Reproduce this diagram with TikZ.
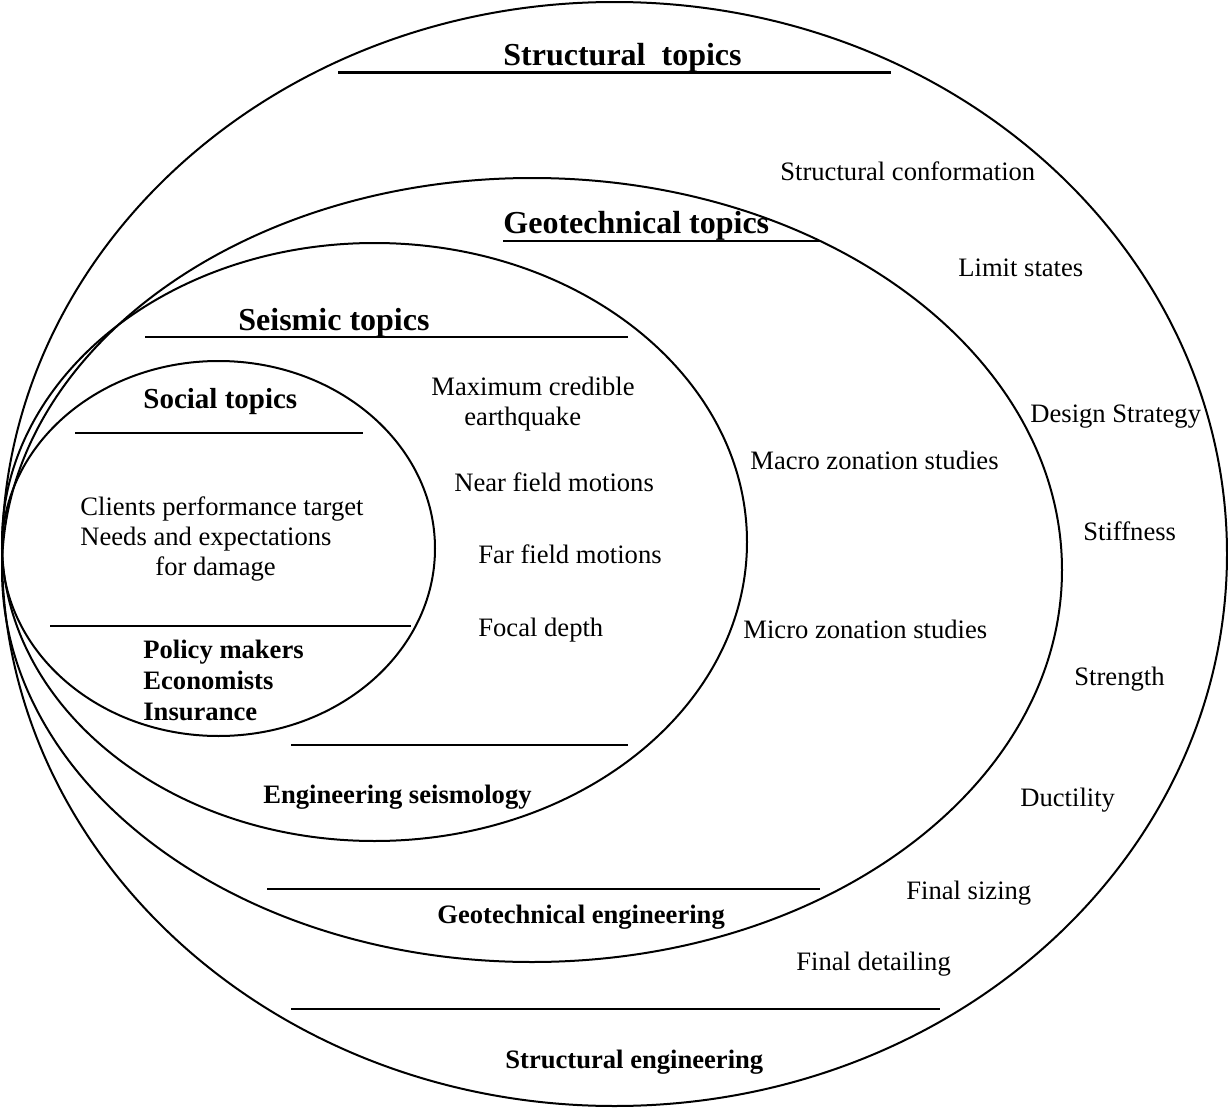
\documentclass[tikz,border=0pt]{standalone}
\usepackage{fontspec}
\setmainfont{Liberation Serif}
\begin{document}
\begin{tikzpicture}[x=0.5pt,y=-0.5pt,
  ring/.style={line width=1pt},
  rulel/.style={line width=1.1pt},
  txt/.style={anchor=base west, inner sep=0pt, font=\fontsize{13.3}{15}\selectfont},
  btxt/.style={anchor=base west, inner sep=0pt, font=\fontsize{13.3}{15}\selectfont\bfseries},
  head/.style={anchor=base west, inner sep=0pt, font=\fontsize{16}{18}\selectfont\bfseries},
  shead/.style={anchor=base west, inner sep=0pt, font=\fontsize{14.5}{17}\selectfont\bfseries}]
\useasboundingbox (0,0) rectangle (1228,1108);
% nested ellipses
\draw[ring] (614.5,554) ellipse [x radius=306.25pt, y radius=276pt];
\draw[ring] (532,570) ellipse [x radius=265pt, y radius=196pt];
\draw[ring] (374.5,542) ellipse [x radius=186.25pt, y radius=149.5pt];
\draw[ring] (218.5,548.5) ellipse [x radius=108.25pt, y radius=93.75pt];
% rule lines
\coordinate (s1a) at (338,72.5);  \coordinate (s1b) at (891,72.5);
\coordinate (g1a) at (503,241);   \coordinate (g1b) at (820,241);
\coordinate (e1a) at (145,337);   \coordinate (e1b) at (628,337);
\coordinate (o1a) at (75,433);    \coordinate (o1b) at (363,433);
\coordinate (o2a) at (50,626);    \coordinate (o2b) at (411,626);
\coordinate (e2a) at (291,745);   \coordinate (e2b) at (628,745);
\coordinate (g2a) at (267,889);   \coordinate (g2b) at (820,889);
\coordinate (s2a) at (291,1009);  \coordinate (s2b) at (940,1009);
\draw[rulel] (s1a) -- (s1b);
\draw[rulel] (g1a) -- (g1b);
\draw[rulel] (e1a) -- (e1b);
\draw[rulel] (o1a) -- (o1b);
\draw[rulel] (o2a) -- (o2b);
\draw[rulel] (e2a) -- (e2b);
\draw[rulel] (g2a) -- (g2b);
\draw[rulel] (s2a) -- (s2b);
% headings
\node[head] (sth) at (503,65) {Structural\ \ topics};
\node[head] (geh) at (503,233) {Geotechnical topics};
\node[head] (seh) at (238,330) {Seismic topics};
\node[shead] (soh) at (143,408) {Social topics};
% social
\node[txt] (c1) at (80,515) {Clients performance target};
\node[txt] (c2) at (80,545) {Needs and expectations};
\node[txt] (c3) at (155,575) {for damage};
\node[btxt] (p1) at (143,658) {Policy makers};
\node[btxt] (p2) at (143,689) {Economists};
\node[btxt] (p3) at (143,720) {Insurance};
% seismic
\node[txt] (m1) at (431,395) {Maximum credible};
\node[txt] (m2) at (464,425) {earthquake};
\node[txt] (nf) at (454,491) {Near field motions};
\node[txt] (ff) at (478,563) {Far field motions};
\node[txt] (fd) at (478,636) {Focal depth};
\node[btxt] (es) at (263,803) {Engineering seismology};
% geotechnical
\node[txt] (mz) at (750,469) {Macro zonation studies};
\node[txt] (mi) at (743,638) {Micro zonation studies};
\node[btxt] (ge) at (437,923) {Geotechnical engineering};
% structural
\node[txt] (sc) at (780,180) {Structural conformation};
\node[txt] (ls) at (958,276) {Limit states};
\node[txt] (ds) at (1030,422) {Design Strategy};
\node[txt] (sf) at (1083,540) {Stiffness};
\node[txt] (sg) at (1074,685) {Strength};
\node[txt] (du) at (1020,806) {Ductility};
\node[txt] (fs) at (906,899) {Final sizing};
\node[txt] (fdt) at (796,970) {Final detailing};
\node[btxt] (se) at (505,1068) {Structural engineering};
\end{tikzpicture}
\end{document}
